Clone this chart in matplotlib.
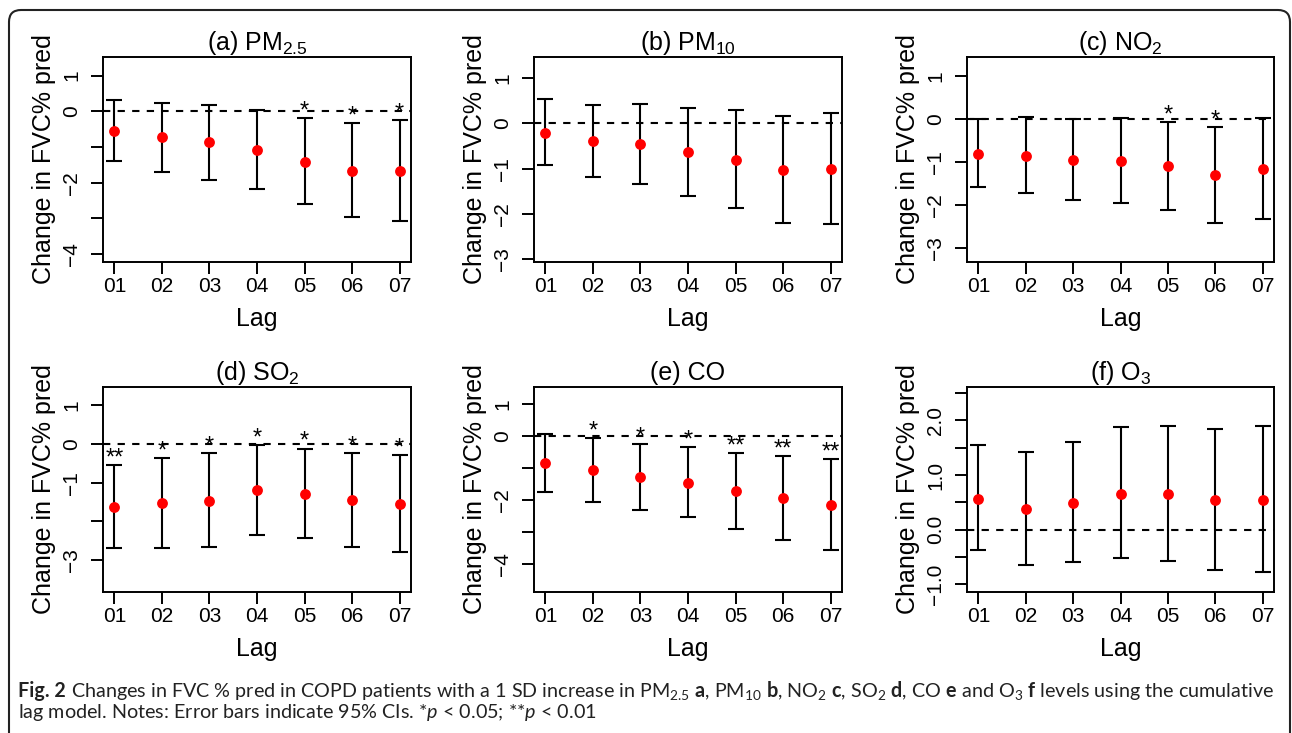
import numpy as np
import matplotlib
matplotlib.use('Agg')
import matplotlib.pyplot as plt
from matplotlib.path import Path
from matplotlib.patches import PathPatch

plt.rcParams['font.family'] = ['Liberation Sans', 'DejaVu Sans']
plt.rcParams['mathtext.fontset'] = 'custom'
plt.rcParams['mathtext.rm'] = 'Lato'
plt.rcParams['mathtext.it'] = 'Lato:italic'
plt.rcParams['mathtext.bf'] = 'Lato:bold'

lags = ['01', '02', '03', '04', '05', '06', '07']

pm25_est = [-0.55, -0.73, -0.87, -1.08, -1.41, -1.66, -1.67]
pm25_lo = [-1.39, -1.71, -1.93, -2.18, -2.60, -2.96, -3.08]
pm25_hi = [0.32, 0.24, 0.17, 0.04, -0.20, -0.33, -0.25]
pm25_sig = ['', '', '', '', '*', '*', '*']

pm10_est = [-0.21, -0.40, -0.46, -0.64, -0.81, -1.03, -1.00]
pm10_lo = [-0.92, -1.18, -1.33, -1.60, -1.88, -2.21, -2.23]
pm10_hi = [0.53, 0.40, 0.42, 0.34, 0.29, 0.17, 0.23]
pm10_sig = ['', '', '', '', '', '', '']

no2_est = [-0.81, -0.85, -0.95, -0.98, -1.10, -1.30, -1.17]
no2_lo = [-1.59, -1.72, -1.89, -1.95, -2.12, -2.43, -2.33]
no2_hi = [0.00, 0.04, 0.01, 0.02, -0.06, -0.18, 0.02]
no2_sig = ['', '', '', '', '*', '*', '']

so2_est = [-1.64, -1.54, -1.47, -1.20, -1.30, -1.45, -1.55]
so2_lo = [-2.70, -2.70, -2.68, -2.35, -2.43, -2.66, -2.81]
so2_hi = [-0.55, -0.37, -0.24, -0.02, -0.12, -0.23, -0.28]
so2_sig = ['**', '*', '*', '*', '*', '*', '*']

co_est = [-0.84, -1.06, -1.27, -1.46, -1.73, -1.95, -2.16]
co_lo = [-1.76, -2.06, -2.30, -2.54, -2.90, -3.25, -3.58]
co_hi = [0.06, -0.05, -0.25, -0.34, -0.52, -0.62, -0.72]
co_sig = ['', '*', '*', '*', '**', '**', '**']

o3_est = [0.57, 0.38, 0.49, 0.66, 0.66, 0.54, 0.55]
o3_lo = [-0.38, -0.65, -0.59, -0.52, -0.57, -0.74, -0.77]
o3_hi = [1.55, 1.43, 1.60, 1.87, 1.90, 1.85, 1.89]
o3_sig = ['', '', '', '', '', '', '']

titles = [r'(a) PM$\mathregular{_{2.5}}$', r'(b) PM$\mathregular{_{10}}$',
          r'(c) NO$\mathregular{_2}$', r'(d) SO$\mathregular{_2}$',
          '(e) CO', r'(f) O$\mathregular{_3}$']

# y ticks and which of them get a label (R skips the crowded ones)
yticks_a = [1, 0, -1, -2, -3, -4]
ylabels_a = ['1', '0', '', '\u22122', '', '\u22124']
yticks_b = [1, 0, -1, -2, -3]
ylabels_b = ['1', '0', '\u22121', '\u22122', '\u22123']
yticks_c = [1, 0, -1, -2, -3]
ylabels_c = ['1', '0', '\u22121', '\u22122', '\u22123']
yticks_d = [1, 0, -1, -2, -3]
ylabels_d = ['1', '0', '\u22121', '', '\u22123']
yticks_e = [1, 0, -1, -2, -3, -4]
ylabels_e = ['1', '0', '', '\u22122', '', '\u22124']
yticks_f = [2.5, 2.0, 1.5, 1.0, 0.5, 0.0, -0.5, -1.0]
ylabels_f = ['', '2.0', '', '1.0', '', '0.0', '', '\u22121.0']

ylims = [(-4.22, 1.52), (-3.06, 1.46), (-3.33, 1.45),
         (-3.84, 1.48), (-4.88, 1.54), (-1.14, 2.61)]

panels = [
    (pm25_est, pm25_lo, pm25_hi, pm25_sig, yticks_a, ylabels_a),
    (pm10_est, pm10_lo, pm10_hi, pm10_sig, yticks_b, ylabels_b),
    (no2_est, no2_lo, no2_hi, no2_sig, yticks_c, ylabels_c),
    (so2_est, so2_lo, so2_hi, so2_sig, yticks_d, ylabels_d),
    (co_est, co_lo, co_hi, co_sig, yticks_e, ylabels_e),
    (o3_est, o3_lo, o3_hi, o3_sig, yticks_f, ylabels_f),
]

W, H = 1292, 733
fig = plt.figure(figsize=(W / 100, H / 100), dpi=100)


def px_rect(left, top, right, bottom):
    return [left / W, 1 - bottom / H, (right - left) / W, (bottom - top) / H]


# rounded frame around the figure (open at the bottom)
frame = fig.add_axes([0, 0, 1, 1])
frame.set_xlim(0, W)
frame.set_ylim(H, 0)
frame.axis('off')
r = 12
verts = [(9, H), (9, 10 + r), (9, 10), (9 + r, 10), (1290 - r, 10),
         (1290, 10), (1290, 10 + r), (1290, H)]
codes = [Path.MOVETO, Path.LINETO, Path.CURVE3, Path.CURVE3, Path.LINETO,
         Path.CURVE3, Path.CURVE3, Path.LINETO]
frame.add_patch(PathPatch(Path(verts, codes), fill=False, lw=1.5, edgecolor='#222222'))

cols = [(103, 411), (534, 842), (967, 1274)]
rows = [(57, 262), (387, 592)]


def plot_panel(i, est, lo, hi, sig, yticks, ylabels):
    left, right = cols[i % 3]
    top, bottom = rows[i // 3]
    ax = fig.add_axes(px_rect(left, top, right, bottom))
    x = np.arange(1, len(lags) + 1)
    est = np.array(est)
    lo = np.array(lo)
    hi = np.array(hi)

    ax.axhline(0, color='black', lw=1.5, ls=(0, (3.5, 3.5)), zorder=1)
    ax.errorbar(x, est, yerr=[est - lo, hi - est], fmt='none', ecolor='black',
                elinewidth=1.5, capsize=6, capthick=1.5, zorder=2)
    ax.plot(x, est, 'o', color='#ff0000', ms=7.8, mec='none', zorder=3)
    for xi, h, s in zip(x, hi, sig):
        if s:
            ax.annotate(s, (xi, h), xytext=(0, 0.5), textcoords='offset points',
                        ha='center', va='baseline', fontsize=17)

    ax.set_xlim(0.76, 7.24)
    ax.set_ylim(*ylims[i])
    ax.set_xticks(x)
    ax.set_xticklabels(lags)
    ax.set_yticks(yticks)
    ax.set_yticklabels(ylabels)
    for sp in ax.spines.values():
        sp.set_linewidth(1.4)
    ax.tick_params(direction='out', length=8.5, width=1.4, labelsize=15)
    ax.tick_params(axis='x', pad=2)
    ax.tick_params(axis='y', pad=7)
    for lab in ax.get_yticklabels():
        lab.set_rotation(90)
        lab.set_va('center')

    ax.set_title(titles[i], fontsize=18, pad=5)
    ax.set_xlabel('Lag', fontsize=18, labelpad=8)
    ax.set_ylabel('Change in FVC% pred', fontsize=18, labelpad=5)


for i, p in enumerate(panels):
    plot_panel(i, *p)

# caption: bold "Fig. 2" as its own text, the rest placed after it
line1 = (r'Changes in FVC % pred in COPD patients with a 1 SD increase in '
         r'PM$\mathregular{_{2.5}}$ $\mathbf{a}$, PM$\mathregular{_{10}}$ $\mathbf{b}$, '
         r'NO$\mathregular{_2}$ $\mathbf{c}$, SO$\mathregular{_2}$ $\mathbf{d}$, CO $\mathbf{e}$ '
         r'and O$\mathregular{_3}$ $\mathbf{f}$ levels using the cumulative')
line2 = r'lag model. Notes: Error bars indicate 95% CIs. *$\mathit{p}$ < 0.05; **$\mathit{p}$ < 0.01'

x0 = 18
y1 = 1 - 697 / H
y2 = 1 - 718 / H
fs = 12
t0 = fig.text(x0 / W, y1, 'Fig. 2', fontsize=fs, family='Lato', fontweight='bold',
              ha='left', va='baseline', color='#222222')
t1 = fig.text(0, y1, line1, fontsize=fs, family='Lato',
              ha='left', va='baseline', color='#222222')
t2 = fig.text(x0 / W, y2, line2, fontsize=fs, family='Lato',
              ha='left', va='baseline', color='#222222')

# fit the first line to the width it has in the original
for _ in range(3):
    fig.canvas.draw()
    w0 = t0.get_window_extent().width
    gap = 0.28 * fs * 100 / 72
    t1.set_x((x0 + w0 + gap) / W)
    fig.canvas.draw()
    total = t1.get_window_extent().x1 - x0
    fs = fs * 1257 / total
    for t in (t0, t1, t2):
        t.set_fontsize(fs)

fig.canvas.draw()
w0 = t0.get_window_extent().width
t1.set_x((x0 + w0 + 0.28 * fs * 100 / 72) / W)

fig.savefig('out.png', dpi=100)
